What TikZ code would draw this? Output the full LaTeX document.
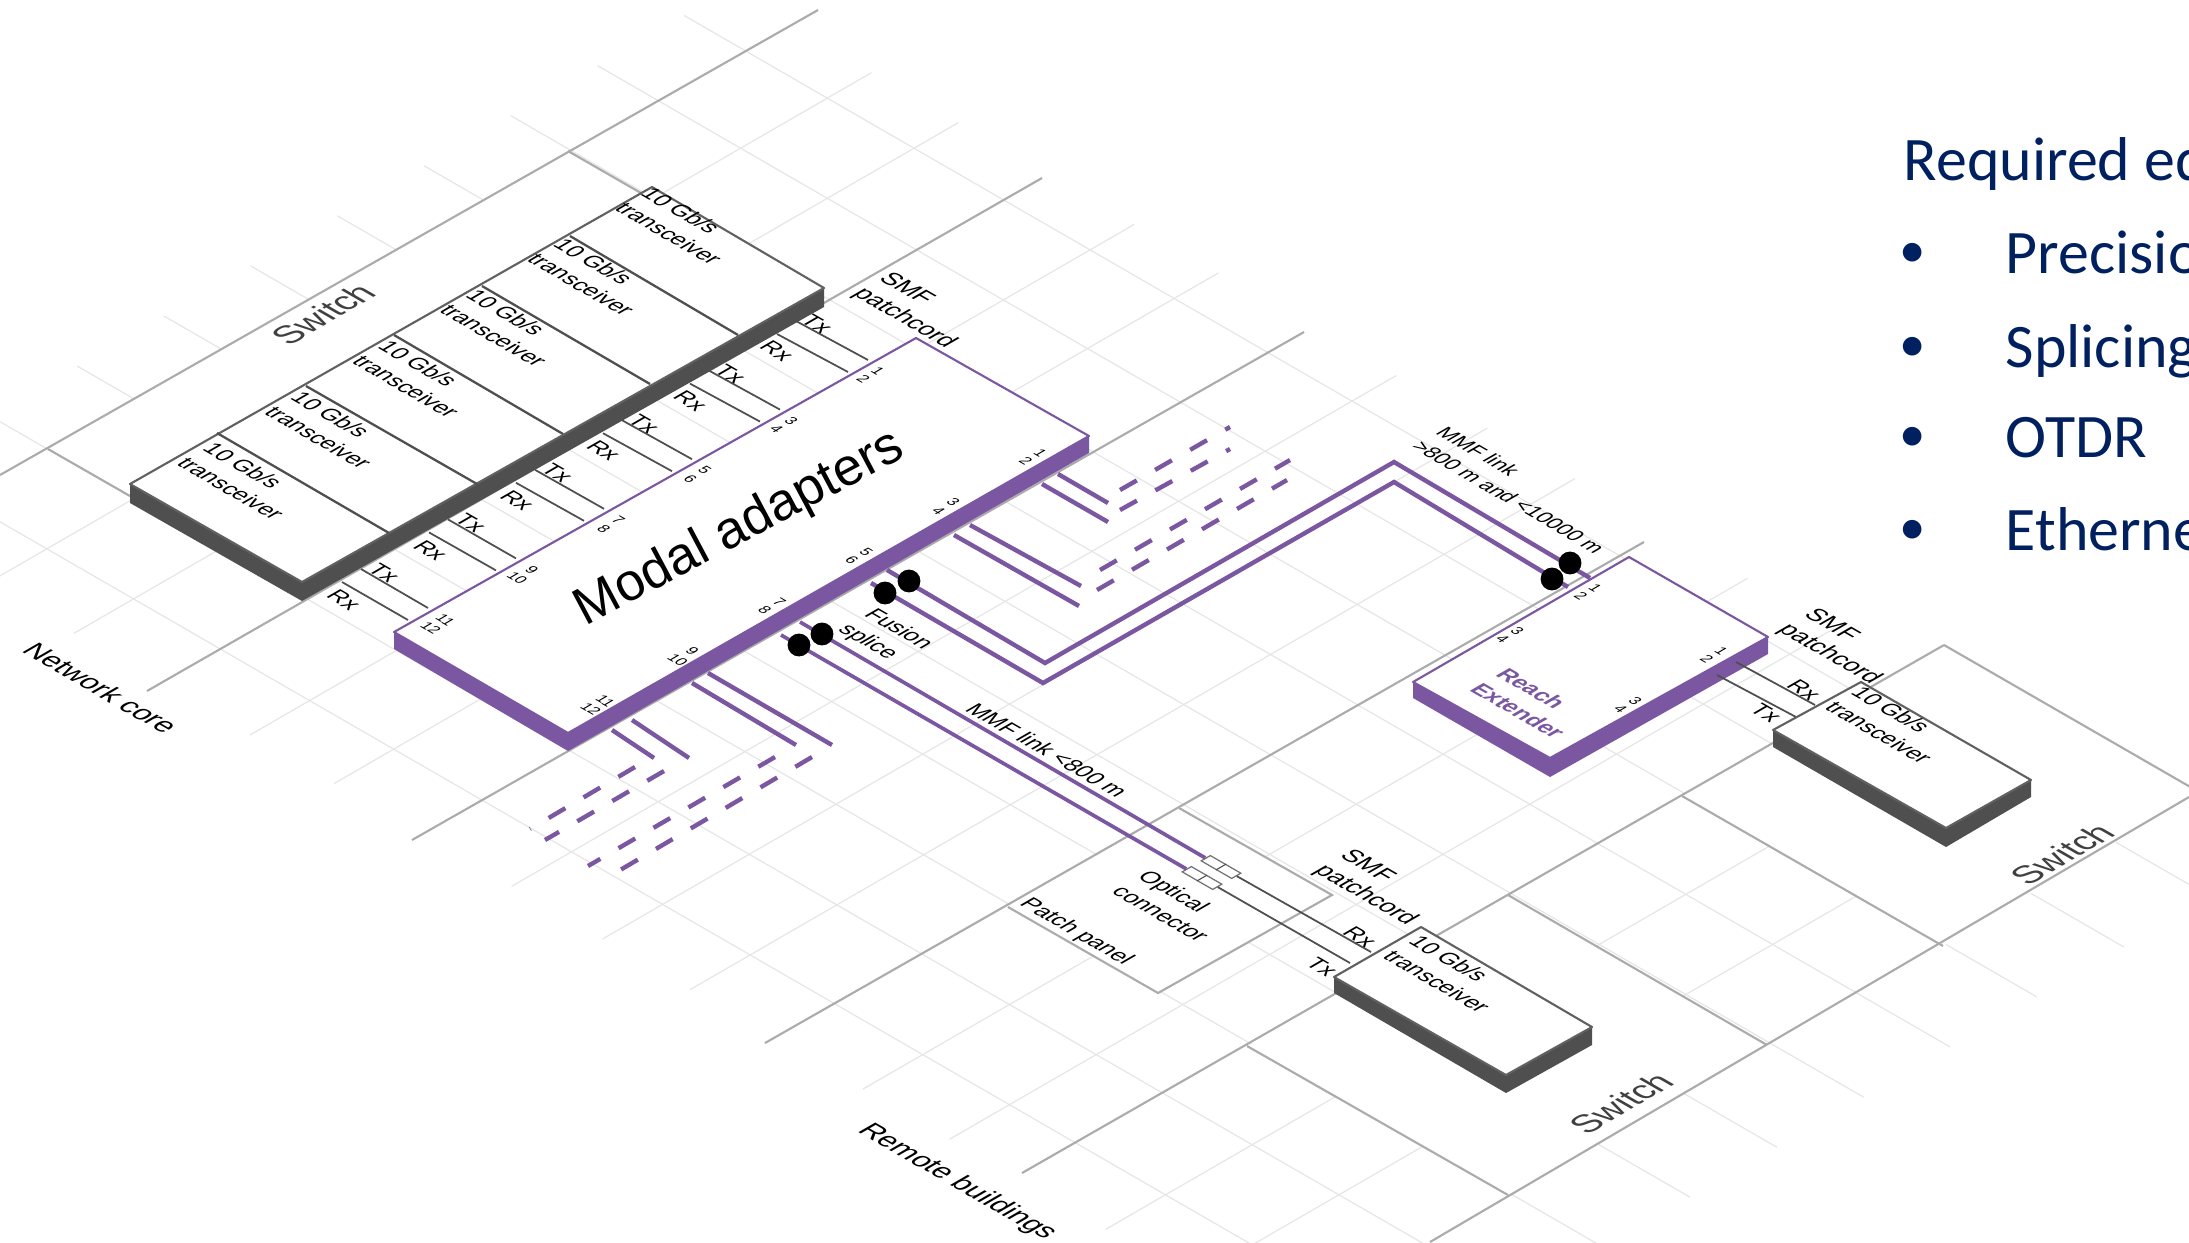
\documentclass[tikz,border=0pt]{standalone}
\usepackage{xcolor}
\usepackage{fontspec}
\setmainfont{Liberation Sans}
\newfontfamily\listfont{Carlito}
\usetikzlibrary{positioning,calc}
\definecolor{modpurple}{HTML}{7B57A1}
\definecolor{boxdark}{HTML}{4F4F4F}
\definecolor{gridmain}{HTML}{ABABAB}
\definecolor{gridlight}{HTML}{E6E6E6}
\definecolor{listblue}{HTML}{002060}

\begin{document}
\begin{tikzpicture}[
  x=0.01cm,y=-0.01cm,
  gridthin/.style={draw=gridlight,line width=.35pt},
  gridmajor/.style={draw=gridmain,line width=.6pt},
  plate/.style={fill=white,draw=none},
  sidedark/.style={fill=boxdark,draw=none},
  sidepurple/.style={fill=modpurple,draw=none},
  topdark/.style={draw=boxdark!90,fill=white,line width=.6pt,line join=round},
  toppurple/.style={draw=modpurple,fill=white,line width=.6pt,line join=round},
  celldiv/.style={draw=boxdark,line width=.65pt},
  link/.style={draw=boxdark,line width=.5pt},
  fibre/.style={draw=modpurple,line width=1.25pt},
  fibredash/.style={fibre,dash pattern=on 5.5pt off 6pt},
  isov/.style={cm={.866,-.5,.866,.5,(0,0)}},
  isou/.style={cm={.866,.5,-.866,.5,(0,0)}},
  lbl/.style={isov,inner sep=0pt,align=left,text=black,font=\fontsize{6.5}{8.5}\selectfont},
  portno/.style={isov,inner sep=0pt,align=center,text=black,font=\fontsize{4.2}{4.8}\selectfont},
  arealbl/.style={isov,inner sep=0pt,text=black,font=\fontsize{8}{10}\selectfont},
  swlbl/.style={isou,inner sep=0pt,text=black!75,font=\fontsize{10}{12}\selectfont},
  splice/.style={circle,fill=black,minimum size=6.5pt,inner sep=0pt},
  optconn/.style={isov,draw=boxdark!80,fill=white,line width=.35pt,minimum width=10pt,
                  minimum height=3pt,inner sep=0pt},
  listtxt/.style={inner sep=0pt,anchor=base west,text=listblue,font=\listfont\fontsize{17.6}{20}\selectfont},
]
\useasboundingbox (0,0) rectangle (2189,1242);
\clip (0,0) rectangle (2189,1242);

% Floor grid, (d,c) are the two line intercepts
\begin{scope}[x={(0.00866cm,-0.005cm)},y={(-0.00866cm,-0.005cm)}]
  \foreach \c in {-379,-279,...,521}
    \draw[gridthin] (410,\c) -- (2170,\c);
  \foreach \d in {575,675,878,975,1180,1285,1386,1585,1685,1865,1965}
    \draw[gridthin] (\d,590) -- (\d,-430);
\end{scope}

% White plates under the equipment
\fill[plate] (48,449) -- (568,151) -- (825,299) -- (307,598) -- cycle;
\fill[plate] (1179,808) -- (1332,895) -- (1158,993) -- (1008,907) -- cycle;
\fill[plate] (1247,1046) -- (1508,895) -- (1767,1045) -- (1508,1195) -- cycle;
\fill[plate] (1682,796) -- (1944,645) -- (2199,792) -- (1943,946) -- cycle;

% Heavier grid lines
\draw[gridmajor] (0,475) -- (818,10);
\draw[gridmajor] (147,691) -- (1042,178);
\draw[gridmajor] (412,840) -- (1304,332);
\draw[gridmajor] (765,1043) -- (1644,542);
\draw[gridmajor] (1022,1173) -- (1944,645);
\draw[gridmajor] (1430,1242) -- (2189,797);
\draw[gridmajor] (48,449) -- (130,496);
\draw[gridmajor] (568,151) -- (660,204);
\draw[gridmajor] (1179,808) -- (1332,895) -- (1158,993) -- (1008,907);
\draw[gridmajor] (1247,1046) -- (1508,1195);
\draw[gridmajor] (1508,895) -- (1767,1045);
\draw[gridmajor] (1682,796) -- (1943,946);
\draw[gridmajor] (1944,645) -- (2199,792);

% Network core switch
\coordinate (swL) at (130,484);
\coordinate (swT) at (652,187);
\coordinate (swR) at (824,288);
\coordinate (swB) at (302,582);
\fill[sidedark] (swL) -- (130,503) -- (302,601) -- (824,307) -- (swR) -- (swB) -- cycle;
\draw[topdark] (swL) -- (swT) -- (swR) -- (swB) -- cycle;
\foreach \ax/\ay/\bx/\by in {217/433/389/533,306/386/477/484,394/335/563/434,482/286/650/384,570/236/738/335}
  \draw[celldiv] (\ax,\ay) -- (\bx,\by);
\foreach \k in {0,...,5}
  \node[lbl] (trx\k) at (244+87.6*\k,481-51*\k) {10 Gb/s\\transceiver};
\node[swlbl] (swA) at (323,314) {Switch};
\node[lbl,font=\fontsize{7}{8.5}\selectfont] (smfA) at (917,311) {SMF\\patchcord};
\node[arealbl] (core) at (101,688) {Network core};

% Rx and Tx patchcords to the adapters
\foreach \k in {0,...,5} {
  \coordinate (rxa\k) at (342+87*\k,582-49.6*\k);
  \coordinate (rxb\k) at (408+88*\k,620-49.6*\k);
  \coordinate (txa\k) at (361+87*\k,569-49.6*\k);
  \coordinate (txb\k) at (428+88*\k,608-49.6*\k);
  \draw[link] (rxa\k) -- (rxb\k);
  \draw[link] (txa\k) -- (txb\k);
  \node[lbl] (rxl\k) at (344+86.6*\k,600-49.8*\k) {Rx};
  \node[lbl] (txl\k) at (384+86.6*\k,573-49.8*\k) {Tx};
}

% Fibres leaving the adapters
\foreach \n/\ax/\ay/\bx/\by in {fa/1058/474/1108/503,fb/1042/484/1108/522,fc/970/525/1081/586,fd/954/535/1079/606,
    fe/708/673/832/745,ff/692/683/796/745,fg/632/720/689/758,fh/612/730/654/758} {
  \coordinate (\n0) at (\ax,\ay);
  \coordinate (\n1) at (\bx,\by);
  \draw[fibre] (\n0) -- (\n1);
}
\foreach \n/\ax/\ay/\bx/\by in {da/1120/490/1230/427,db/1120/510/1230/449,dc/1100/570/1290/460,dd/1097/590/1287/480,
    de/812/757/610/876,df/775/757/588/866,dg/635/767/530/829,dh/664/771/545/840} {
  \coordinate (\n0) at (\ax,\ay);
  \coordinate (\n1) at (\bx,\by);
  \draw[fibredash] (\n0) -- (\n1);
}

% Two long links
\coordinate (upA) at (887,570);
\coordinate (upB) at (1590,578);
\coordinate (loA) at (871,583);
\coordinate (loB) at (1568,587);
\draw[fibre,line join=miter] (upA) -- (1045,663) -- (1394,462) -- (upB);
\draw[fibre,line join=miter] (loA) -- (1043,683) -- (1394,482) -- (loB);
\node[optconn] (connA) at (1221,867) {};
\node[optconn] (connB) at (1202,878) {};
\draw[link,line width=.3pt] (connA.north) -- (connA.south);
\draw[link,line width=.3pt] (connB.north) -- (connB.south);
\coordinate (mmA) at (800,622);
\coordinate (mmB) at (781,635);
\draw[fibre,line width=1.05pt] (mmA) -- (connA.west);
\draw[fibre,line width=1.05pt] (mmB) -- (connB.west);

% Modal adapter block
\coordinate (modL) at (394,632);
\coordinate (modT) at (916,338);
\coordinate (modR) at (1089,436);
\coordinate (modB) at (568,733);
\fill[sidepurple] (modL) -- (394,649) -- (568,751) -- (1089,453) -- (modR) -- (modB) -- cycle;
\draw[toppurple] (modL) -- (modT) -- (modR) -- (modB) -- cycle;
\node[rotate=28,inner sep=0pt,font=\fontsize{15}{18}\selectfont] (modal) at (740,529) {Modal adapters};
\foreach \k/\odd/\even in {0/11/12,1/9/10,2/7/8,3/5/6,4/3/4,5/1/2} {
  \node[portno] (pt\k) at (438+86.5*\k,624-49.8*\k) {\odd\\\even};
  \node[portno] (pb\k) at (598+87*\k,705-49.6*\k) {\odd\\\even};
}

% Reach extender
\coordinate (reL) at (1413,682);
\coordinate (reT) at (1629,557);
\coordinate (reR) at (1768,637);
\coordinate (reB) at (1550,758);
\fill[sidepurple] (reL) -- (1413,698) -- (1550,777) -- (1768,654) -- (reR) -- (reB) -- cycle;
\draw[toppurple] (reL) -- (reT) -- (reR) -- (reB) -- cycle;
\node[lbl,text=modpurple,font=\fontsize{6.5}{8.5}\bfseries\selectfont] (reach) at (1531,703) {Reach\\Extender};
\node[portno] (re1) at (1588,592) {1\\2};
\node[portno] (re2) at (1510,635) {3\\4};
\node[portno] (re3) at (1714,655) {1\\2};
\node[portno] (re4) at (1628,705) {3\\4};

% Splices
\node[splice] (spA) at (799,645) {};
\node[splice] (spB) at (822,634) {};
\node[splice] (spC) at (885,593) {};
\node[splice] (spD) at (909,581) {};
\node[splice] (spE) at (1552,579) {};
\node[splice] (spF) at (1570,563) {};
\node[lbl] (fus) at (885,637) {Fusion\\splice};
\node[lbl] (mmfA) at (1047,750) {MMF link <800 m};
\node[lbl,font=\fontsize{6}{8}\selectfont] (mmfB) at (1521,490) {MMF link\\>800 m and <10000 m};

% Remote switch, upper
\coordinate (trL) at (1773,730);
\coordinate (trT) at (1861,682);
\coordinate (trR) at (2031,780);
\coordinate (trB) at (1946,828);
\coordinate (lkA) at (1736,662);
\coordinate (lkB) at (1815,705);
\coordinate (lkC) at (1717,675);
\coordinate (lkD) at (1796,717);
\draw[link] (lkA) -- (lkB);
\draw[link] (lkC) -- (lkD);
\fill[sidedark] (trL) -- (1773,747) -- (1946,847) -- (2031,797) -- (trR) -- (trB) -- cycle;
\draw[topdark] (trL) -- (trT) -- (trR) -- (trB) -- cycle;
\node[lbl] (trxB) at (1892,725) {10 Gb/s\\transceiver};
\node[lbl,font=\fontsize{7}{8.5}\selectfont] (smfB) at (1842,647) {SMF\\patchcord};
\node[lbl] (rxB) at (1804,690) {Rx};
\node[lbl] (txB) at (1766,713) {Tx};
\node[swlbl] (swB) at (2062,854) {Switch};

% Remote switch, lower
\coordinate (tsL) at (1334,977);
\coordinate (tsT) at (1421,927);
\coordinate (tsR) at (1592,1027);
\coordinate (tsB) at (1506,1075);
\coordinate (lkE) at (1371,952);
\coordinate (lkF) at (1350,963);
\draw[link] (connA.east) -- (lkE);
\draw[link] (connB.east) -- (lkF);
\fill[sidedark] (tsL) -- (1334,993) -- (1506,1093) -- (1592,1045) -- (tsR) -- (tsB) -- cycle;
\draw[topdark] (tsL) -- (tsT) -- (tsR) -- (tsB) -- cycle;
\node[lbl] (trxC) at (1450,974) {10 Gb/s\\transceiver};
\node[lbl,font=\fontsize{7}{8.5}\selectfont] (smfC) at (1378,888) {SMF\\patchcord};
\node[lbl] (rxC) at (1360,937) {Rx};
\node[lbl] (txC) at (1322,967) {Tx};
\node[swlbl] (swC) at (1621,1103) {Switch};
\node[lbl] (optc) at (1174,906) {Optical\\connector};
\node[lbl] (patch) at (1076,932) {Patch panel};
\node[arealbl] (remote) at (957,1182) {Remote buildings};

% Equipment list, runs off the page
\node[listtxt] (req) at (1903,180) {Required eq};
\node[listtxt] (itA) at (2005,273) {Precisio};
\node[listtxt] (itB) at (2005,367) {Splicing};
\node[listtxt] (itC) at (2005,457) {OTDR};
\node[listtxt] (itD) at (2005,550) {Etherne};
\foreach \y/\n in {267/A,361/B,451/C,544/D}
  \node[listtxt,anchor=base,font=\listfont\fontsize{15}{18}\selectfont] (bul\n) at (1913,\y) {•};
\end{tikzpicture}
\end{document}
